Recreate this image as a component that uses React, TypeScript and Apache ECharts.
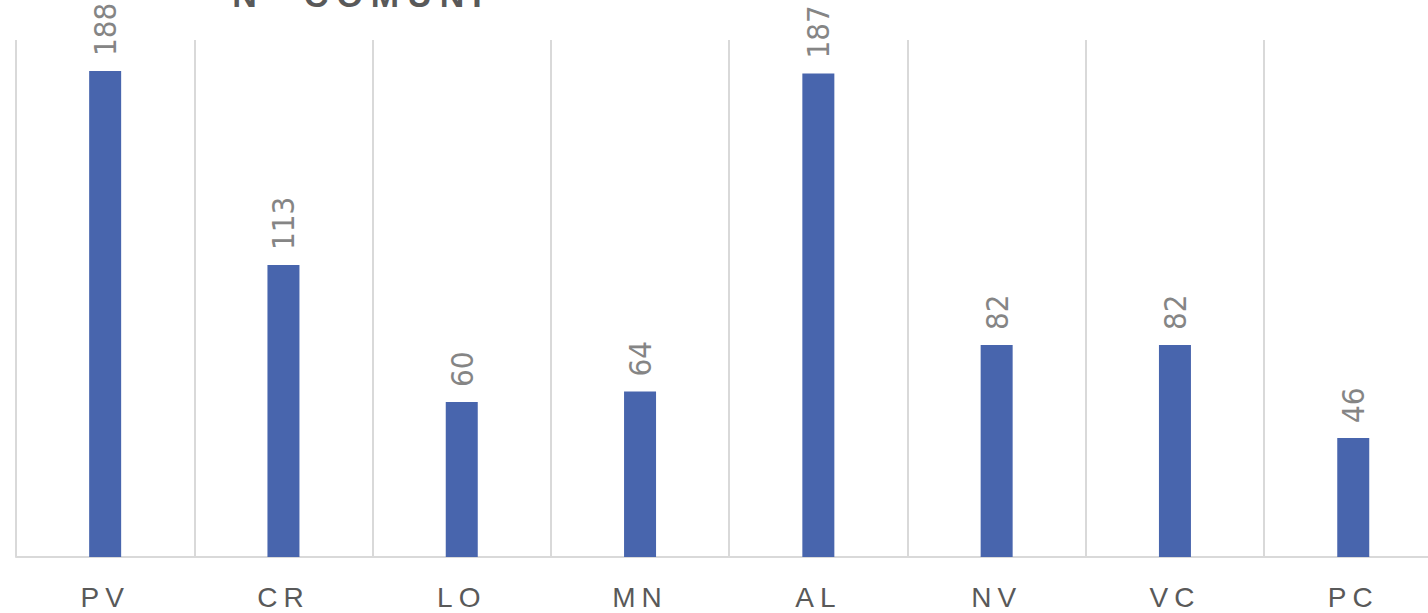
import React, { useEffect, useRef } from "react";
import * as echarts from "echarts";

const categories = ["PV", "CR", "LO", "MN", "AL", "NV", "VC", "PC"];
const values = [188, 113, 60, 64, 187, 82, 82, 46];
const titleText = "N° COMUNI";
const yMax = 200;

export default function App() {
  const ref = useRef<HTMLDivElement>(null);

  useEffect(() => {
    if (!ref.current) return;
    const chart = echarts.init(ref.current, undefined, { renderer: "svg" });
    chart.setOption({
      animation: false,
      backgroundColor: "#ffffff",
      grid: { left: 16, top: 40, width: 1426.4, height: 517 },
      graphic: [
        {
          type: "text",
          x: 361,
          y: -5,
          style: {
            text: titleText,
            fontSize: 34,
            fontWeight: "bold",
            fontFamily: "'Liberation Sans', Arial, sans-serif",
            fill: "#595959",
            align: "center",
            verticalAlign: "middle",
          },
        },
      ],
      xAxis: {
        type: "category",
        data: categories,
        axisLine: { show: true, lineStyle: { color: "#d9d9d9", width: 2 } },
        axisTick: { show: false },
        splitLine: { show: true, interval: 0, lineStyle: { color: "#d9d9d9", width: 2 } },
        axisLabel: {
          interval: 0,
          margin: 26,
          fontSize: 28,
          color: "#595959",
          fontFamily: "'Liberation Sans', Arial, sans-serif",
        },
      },
      yAxis: {
        type: "value",
        min: 0,
        max: yMax,
        show: false,
        splitLine: { show: false },
      },
      series: [
        {
          type: "bar",
          data: values,
          barWidth: 32,
          itemStyle: { color: "#4865ad" },
          label: {
            show: true,
            position: "top",
            rotate: 90,
            align: "left",
            verticalAlign: "middle",
            distance: 15,
            fontSize: 31,
            color: "#858585",
            fontFamily: "'Liberation Sans Narrow', 'DejaVu Sans Condensed', 'Liberation Sans', sans-serif",
          },
        },
      ],
    });

    const applySpacing = () => {
      if (!ref.current) return;
      ref.current.querySelectorAll("text").forEach((t) => {
        const s = (t.textContent || "").trim();
        if (s === titleText) (t as SVGTextElement).style.letterSpacing = "8px";
        else if (categories.includes(s)) (t as SVGTextElement).style.letterSpacing = "6px";
      });
    };
    applySpacing();
    chart.on("finished", applySpacing);
    const raf = requestAnimationFrame(applySpacing);

    return () => {
      cancelAnimationFrame(raf);
      chart.dispose();
    };
  }, []);

  return (
    <div
      style={{
        position: "fixed",
        left: 0,
        top: 0,
        width: 1428,
        height: 613,
        overflow: "hidden",
        background: "#ffffff",
      }}
    >
      <div ref={ref} style={{ width: 1450, height: 613 }} />
    </div>
  );
}
